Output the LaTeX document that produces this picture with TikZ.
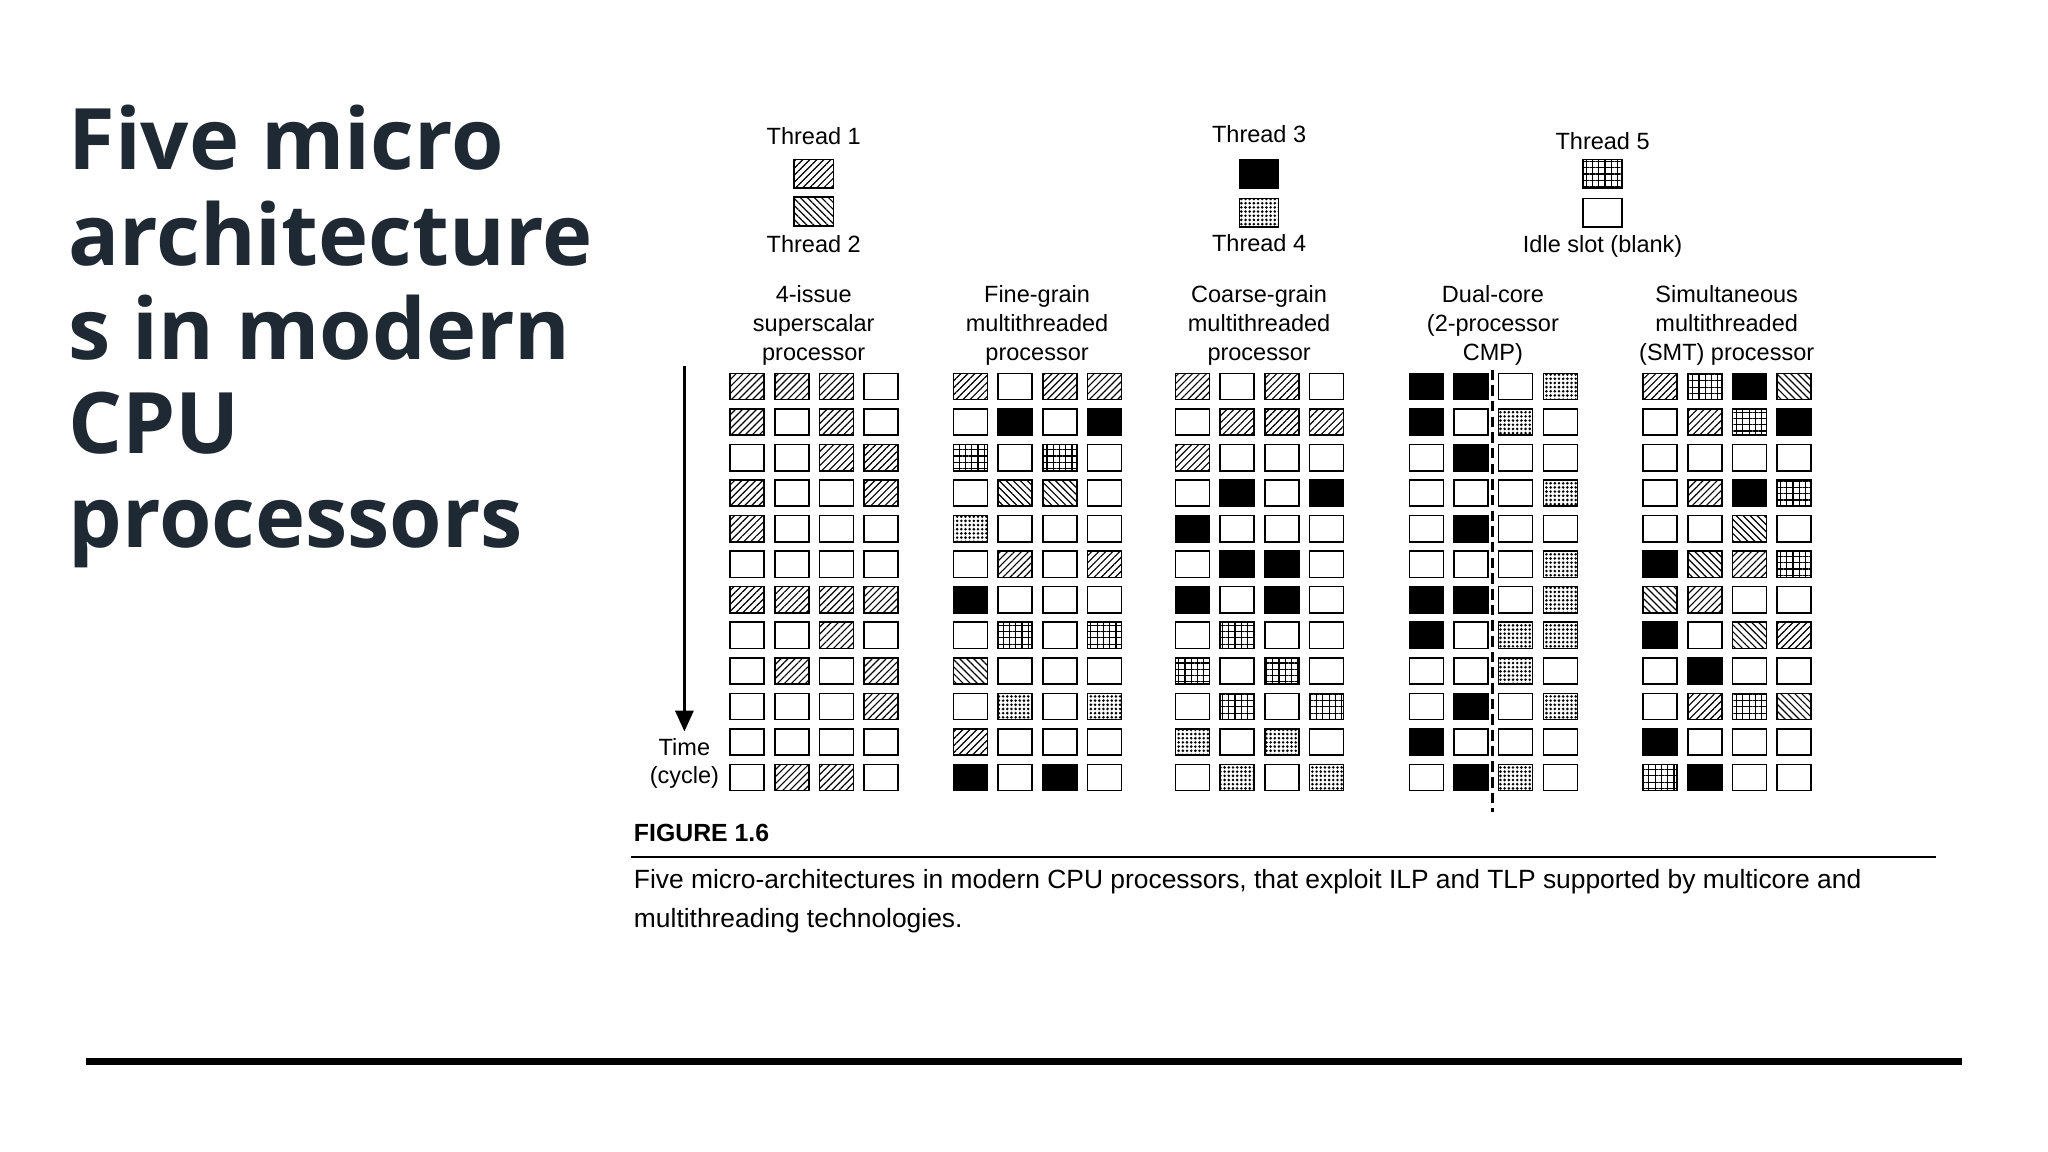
\documentclass[tikz,border=0pt]{standalone}
\usepackage{fontspec}
\setmainfont{Liberation Sans}
\newfontfamily\titlefont{Open Sans}
\usetikzlibrary{patterns,patterns.meta,arrows.meta}
\begin{document}
\begin{tikzpicture}[x=0.5pt,y=-0.5pt,
 cell/.style={draw,line width=0.6pt,minimum width=13pt,minimum height=10pt,inner sep=0pt},
 leg/.style={cell,minimum width=15pt,minimum height=11pt},
 p0/.style={fill=white},
 p1/.style={pattern={Lines[angle=45,distance=1.9pt,line width=0.45pt]}},
 p2/.style={pattern={Lines[angle=-45,distance=1.9pt,line width=0.45pt]}},
 p3/.style={fill=black},
 p4/.style={pattern={Dots[distance=1.6pt,radius=0.55pt]}},
 p5/.style={pattern={Hatch[angle=0,distance=2.4pt,line width=0.45pt]}},
 lab/.style={font=\fontsize{9}{11}\selectfont,align=center,inner sep=0pt},
 ttl/.style={font=\titlefont\bfseries\fontsize{32.5}{36}\selectfont,text={rgb,255:red,31;green,41;blue,51},anchor=base west,inner sep=0pt}]
\useasboundingbox (0,0) rectangle (1568,882);
\fill[white] (0,0) rectangle (1568,882);
\newcommand\cpugrid[3]{\foreach \row [count=\r] in {#3}{\foreach \v [count=\c] in \row {\node[cell,p\v] (g#2-\r-\c) at ({#1+(\c-1)*34.2},{296+(\r-1)*27.2}) {};}}}
% title
\node[ttl] (t1) at (52,130) {Five micro};
\node[ttl] (t2) at (52,203) {architecture};
\node[ttl] (t3) at (52,275) {s in modern};
\node[ttl] (t4) at (52,347) {CPU};
\node[ttl] (t5) at (52,419) {processors};
% legend
\node[lab] (l1) at (623,104) {Thread 1};
\node[leg,p1] (lb1) at (623,133) {};
\node[leg,p2] (lb2) at (623,162) {};
\node[lab] (l2) at (623,187) {Thread 2};
\node[lab] (l3) at (964,103) {Thread 3};
\node[leg,p3] (lb3) at (964,133) {};
\node[leg,p4] (lb4) at (964,163) {};
\node[lab] (l4) at (964,186) {Thread 4};
\node[lab] (l5) at (1227,108) {Thread 5};
\node[leg,p5] (lb5) at (1227,133) {};
\node[leg,p0] (lb6) at (1227,163) {};
\node[lab] (l6) at (1227,189) {Idle slot (blank)};
% headers
\node[lab] (h1) at (623,249) {4-issue\\superscalar\\processor};
\node[lab] (h2) at (794,249) {Fine-grain\\multithreaded\\processor};
\node[lab] (h3) at (964,249) {Coarse-grain\\multithreaded\\processor};
\node[lab] (h4) at (1143,249) {Dual-core\\(2-processor\\CMP)};
\node[lab] (h5) at (1322,249) {Simultaneous\\multithreaded\\(SMT) processor};
% grids
\cpugrid{572}{1}{{1,1,1,0},{1,0,1,0},{0,0,1,1},{1,0,0,1},{1,0,0,0},{0,0,0,0},{1,1,1,1},{0,0,1,0},{0,1,0,1},{0,0,0,1},{0,0,0,0},{0,1,1,0}}
\cpugrid{743}{2}{{1,0,1,1},{0,3,0,3},{5,0,5,0},{0,2,2,0},{4,0,0,0},{0,1,0,1},{3,0,0,0},{0,5,0,5},{2,0,0,0},{0,4,0,4},{1,0,0,0},{3,0,3,0}}
\cpugrid{913}{3}{{1,0,1,0},{0,1,1,1},{1,0,0,0},{0,3,0,3},{3,0,0,0},{0,3,3,0},{3,0,3,0},{0,5,0,0},{5,0,5,0},{0,5,0,5},{4,0,4,0},{0,4,0,4}}
\cpugrid{1092}{4}{{3,3,0,4},{3,0,4,0},{0,3,0,0},{0,0,0,4},{0,3,0,0},{0,0,0,4},{3,3,0,4},{3,0,4,4},{0,0,4,0},{0,3,0,4},{3,0,0,0},{0,3,4,0}}
\cpugrid{1271}{5}{{1,5,3,2},{0,1,5,3},{0,0,0,0},{0,1,3,5},{0,0,2,0},{3,2,1,5},{2,1,0,0},{3,0,2,1},{0,3,0,0},{0,1,5,2},{3,0,0,0},{5,3,0,0}}
\coordinate (da) at (1143,283);
\coordinate (db) at (1143,622);
\draw[line width=1.2pt,dash pattern=on 4pt off 2pt] (da) -- (db);
% time arrow
\coordinate (ta) at (524,280);
\coordinate (tb) at (524,560);
\draw[line width=1pt,-{Triangle[length=8pt,width=7pt]}] (ta) -- (tb);
\node[lab] (tm) at (524,572) {Time};
\node[lab] (cy) at (524,595) {(cycle)};
% caption
\node[anchor=west,inner sep=0pt,font=\bfseries\fontsize{9.5}{11}\selectfont] (fig) at (485,638) {FIGURE 1.6};
\coordinate (ca) at (483,656);
\coordinate (cb) at (1482,656);
\draw[line width=0.9pt] (ca) -- (cb);
\node[anchor=west,inner sep=0pt,font=\fontsize{10.1}{12}\selectfont] (c1) at (485,675) {Five micro-architectures in modern CPU processors, that exploit ILP and TLP supported by multicore and};
\node[anchor=west,inner sep=0pt,font=\fontsize{10.1}{12}\selectfont] (c2) at (485,705) {multithreading technologies.};
% bottom rule
\coordinate (ba) at (66,813);
\coordinate (bb) at (1502,813);
\draw[line width=2.6pt] (ba) -- (bb);
\end{tikzpicture}
\end{document}
